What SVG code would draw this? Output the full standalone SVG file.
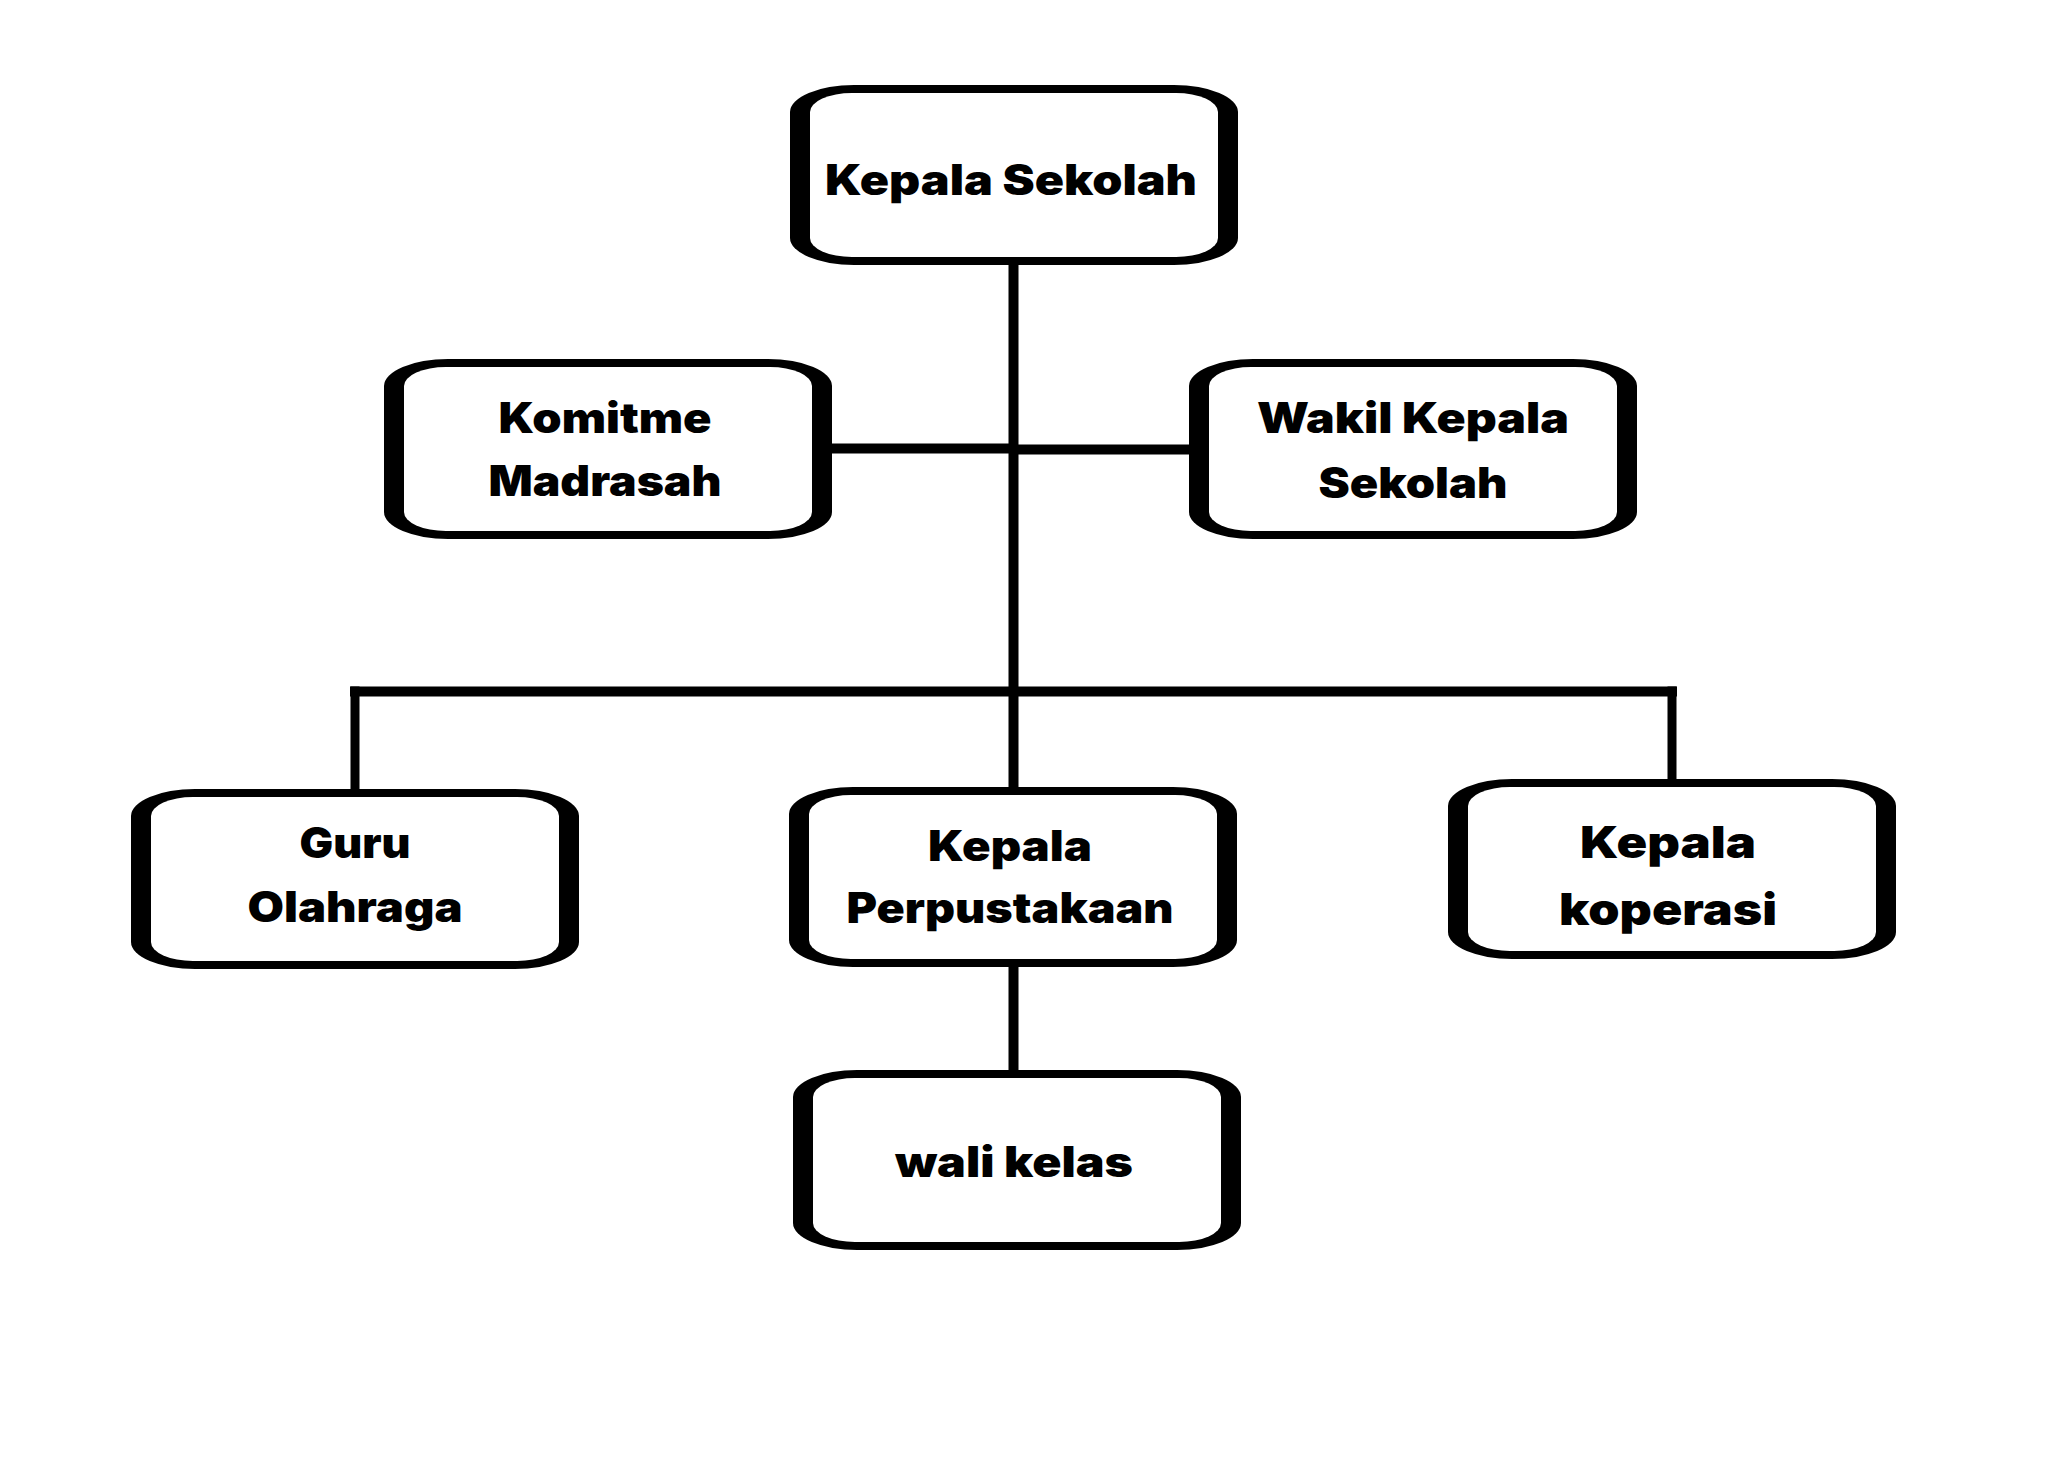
<svg xmlns="http://www.w3.org/2000/svg" width="2048" height="1476" viewBox="0 0 2048 1476">
<style>
.outer{fill:#000}
.inner{fill:#fff}
.lbl{font-family:Inter,"Liberation Sans",Arial,sans-serif;font-weight:900;font-size:42px;fill:#000;text-anchor:middle}
.conn{stroke:#000;stroke-width:10;fill:none;stroke-linecap:butt}
</style>
<defs>
<g id="box">
<rect class="outer" x="0" y="0" width="448" height="180" rx="64" ry="27"/>
<rect class="inner" x="20" y="8" width="408" height="164" rx="42" ry="19"/>
</g>
</defs>
<rect width="2048" height="1476" fill="#fff"/>
<g id="connectors">
<line class="conn" x1="1013.5" y1="262" x2="1013.5" y2="790"/>
<line class="conn" x1="830" y1="448.5" x2="1013.5" y2="448.5"/>
<line class="conn" x1="1013.5" y1="449.5" x2="1190" y2="449.5"/>
<line class="conn" x1="350" y1="691.5" x2="1677" y2="691.5"/>
<line class="conn" x1="355" y1="686.5" x2="355" y2="790" style="stroke-width:9"/>
<line class="conn" x1="1672" y1="686.5" x2="1672" y2="780" style="stroke-width:9"/>
<line class="conn" x1="1013.5" y1="964" x2="1013.5" y2="1072"/>
</g>
<g id="kepala-sekolah">
<use href="#box" x="790" y="85"/>
<text class="lbl" x="1011" y="195" textLength="372" lengthAdjust="spacingAndGlyphs">Kepala Sekolah</text>
</g>
<g id="komitme-madrasah">
<use href="#box" x="384" y="359"/>
<text class="lbl" x="605" y="433" textLength="213" lengthAdjust="spacingAndGlyphs">Komitme</text>
<text class="lbl" x="605" y="496" textLength="233" lengthAdjust="spacingAndGlyphs">Madrasah</text>
</g>
<g id="wakil-kepala-sekolah">
<use href="#box" x="1189" y="359"/>
<text class="lbl" x="1413" y="433" textLength="312" lengthAdjust="spacingAndGlyphs">Wakil Kepala</text>
<text class="lbl" x="1413" y="498" textLength="189" lengthAdjust="spacingAndGlyphs">Sekolah</text>
</g>
<g id="guru-olahraga">
<use href="#box" x="131" y="789"/>
<text class="lbl" x="355" y="858" textLength="111" lengthAdjust="spacingAndGlyphs">Guru</text>
<text class="lbl" x="355" y="922" textLength="215" lengthAdjust="spacingAndGlyphs">Olahraga</text>
</g>
<g id="kepala-perpustakaan">
<use href="#box" x="789" y="787"/>
<text class="lbl" x="1010" y="861" textLength="164" lengthAdjust="spacingAndGlyphs">Kepala</text>
<text class="lbl" x="1010" y="923" textLength="327" lengthAdjust="spacingAndGlyphs">Perpustakaan</text>
</g>
<g id="kepala-koperasi">
<use href="#box" x="1448" y="779"/>
<text class="lbl" x="1668" y="858" textLength="176" lengthAdjust="spacingAndGlyphs" style="font-size:44px">Kepala</text>
<text class="lbl" x="1668" y="925" textLength="218" lengthAdjust="spacingAndGlyphs" style="font-size:44px">koperasi</text>
</g>
<g id="wali-kelas">
<use href="#box" x="793" y="1070"/>
<text class="lbl" x="1014" y="1177" textLength="238" lengthAdjust="spacingAndGlyphs">wali kelas</text>
</g>
</svg>
